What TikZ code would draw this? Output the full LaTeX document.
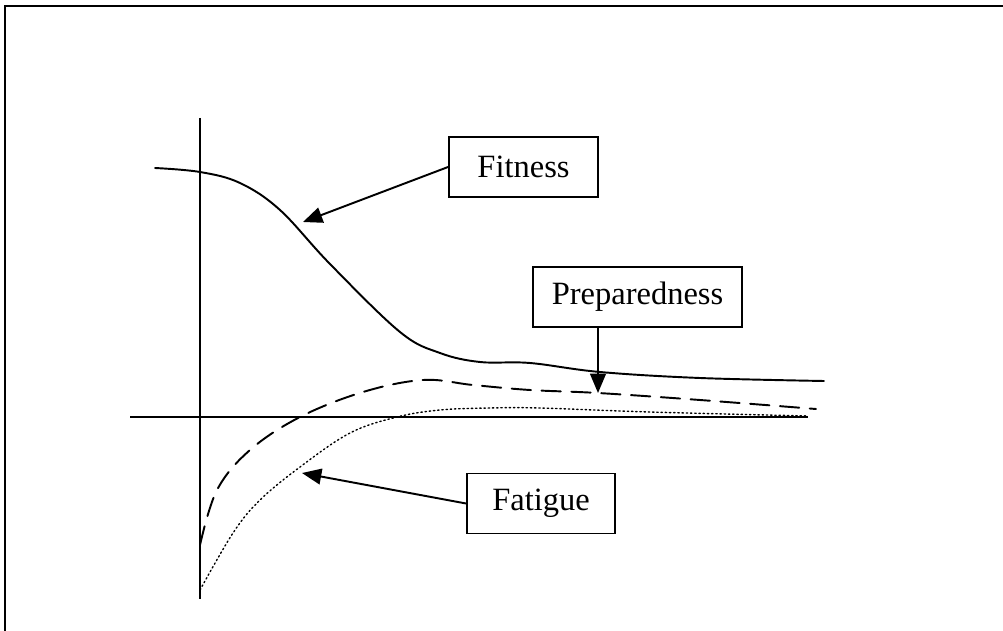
\documentclass[tikz,border=0pt]{standalone}
\usepackage{fontspec}
\setmainfont{Liberation Serif}
\usetikzlibrary{arrows.meta,calc}
\tikzset{
  lbl/.style={draw,line width=1.1pt,fill=white,inner sep=0pt,minimum height=1.2cm,
    font=\fontsize{18.5}{22}\selectfont},
  pointer/.style={line width=1.1pt,-{Triangle[length=11pt,width=9pt]}},
  curve/.style={line width=1.1pt,line cap=round}
}

\begin{document}
\begin{tikzpicture}[x=0.02cm,y=-0.02cm]
    \useasboundingbox (0,0) rectangle (1003,631);
    % frame
    \draw[line width=1.3pt] (5,640) -- (5,6) -- (1010,6);
    % axes
    \draw[line width=1.1pt]
    (200,118) coordinate(top) (200,599) coordinate(bot)
    (130,417) coordinate(left) (808,417) coordinate(right);
    \draw[line width=1.1pt] (top) -- (bot) (left) -- (right);
    % fitness, preparedness, fatigue
    \draw[curve] plot[smooth,tension=0.6] coordinates
      {(155,168) (200,172) (240,183) (280,210) (330,264) (400,332) (440,353)
       (480,362) (530,363) (600,372) (700,378) (824,381)};
    \draw[curve,dash pattern=on 11pt off 6pt] plot[smooth,tension=0.6] coordinates
      {(200,545) (217,490) (250,450) (300,417) (363,392) (423,380) (473,385)
       (530,390) (598,393) (700,400) (816,409)};
    \draw[curve,line width=0.8pt,dash pattern=on 0.8pt off 1.6pt] plot[smooth,tension=0.6] coordinates
      {(200,590) (233,533) (260,500) (300,467) (350,433) (397,417) (440,410)
       (490,408) (540,408) (650,412) (808,416)};
    % labels
    \draw
    (523.5,167) node[lbl,minimum width=2.98cm](fit){Fitness}
    (637.5,297) node[lbl,minimum width=4.18cm](prep){Preparedness}
    (541,503.5) node[lbl,minimum width=2.96cm](fat){Fatigue}
    (303,222) coordinate(fitT)
    (598,393) coordinate(prepT)
    (302,473) coordinate(fatT);
    \draw[pointer] (fit.west) -- (fitT);
    \draw[pointer] (prep.south -| prepT) -- (prepT);
    \draw[pointer] (fat.west) -- (fatT);
\end{tikzpicture}
\end{document}
